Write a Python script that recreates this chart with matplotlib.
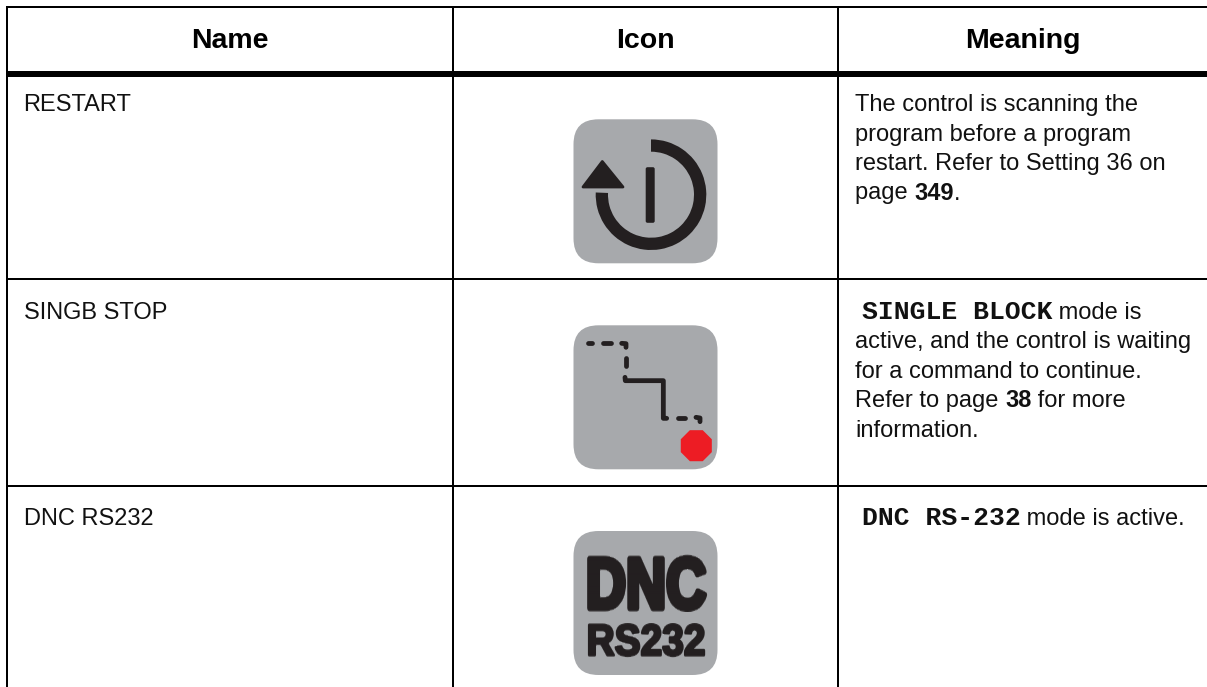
import numpy as np
import matplotlib
matplotlib.use("Agg")
import matplotlib.pyplot as plt
from matplotlib.patches import FancyBboxPatch, Polygon, Wedge, RegularPolygon
import matplotlib.patheffects as pe

headers = ["Name", "Icon", "Meaning"]
names = ["RESTART", "SINGB STOP", "DNC RS232"]

# each line is a list of (text, style) runs, r=regular b=bold m=mono bold
meaning_restart = [
    [("The control is scanning the", "r")],
    [("program before a program", "r")],
    [("restart. Refer to Setting 36 on", "r")],
    [("page ", "r"), ("349", "b"), (".", "r")],
]
meaning_singb = [
    [("SINGLE BLOCK", "m"), (" mode is", "r")],
    [("active, and the control is waiting", "r")],
    [("for a command to continue.", "r")],
    [("Refer to page ", "r"), ("38", "b"), (" for more", "r")],
    [("information.", "r")],
]
meaning_dnc = [
    [("DNC RS-232", "m"), (" mode is active.", "r")],
]

GRAY = "#a7a9ac"
DARK = "#231f20"
RED = "#ed1c24"
W, H = 1207, 687

plt.rcParams['font.family'] = ['Liberation Sans', 'DejaVu Sans']

fig = plt.figure(figsize=(W / 100, H / 100), dpi=100)
ax = fig.add_axes([0, 0, 1, 1])
ax.set_xlim(0, W)
ax.set_ylim(H, 0)
ax.axis('off')

# table rules
for y, lw in [(7, 2), (74, 6), (279, 2), (486, 2)]:
    ax.plot([6, W], [y, y], color='black', lw=lw * 0.72, solid_capstyle='butt')
for x in [7, 453, 838]:
    ax.plot([x, x], [6, H], color='black', lw=2 * 0.72, solid_capstyle='butt')

# header
for x, label in zip([230, 645.5, 1022.5], headers):
    ax.text(x, 48, label, ha='center', va='baseline', fontsize=20.5, fontweight='bold', color='black')

# name column
for y, label in zip([111, 319, 525], names):
    ax.text(23.5, y, label, ha='left', va='baseline', fontsize=17, color='#111111')


def draw_run_line(x, y, runs):
    renderer = fig.canvas.get_renderer()
    for txt, style in runs:
        kw = {'fontsize': 17, 'color': '#111111'}
        if style == 'b':
            kw['fontweight'] = 'bold'
        elif style == 'm':
            kw.update(family=['Liberation Mono', 'DejaVu Sans Mono'], fontweight='bold', fontsize=19)
        t = ax.text(x, y, txt, ha='left', va='baseline', **kw)
        x += t.get_window_extent(renderer).width


for i, runs in enumerate(meaning_restart):
    draw_run_line(855, 111 + i * 29.5, runs)
for i, runs in enumerate(meaning_singb):
    x0 = 861.5 if i == 0 else 855
    draw_run_line(x0, 319 + i * 29.4, runs)
for runs in meaning_dnc:
    draw_run_line(861.5, 525, runs)


def icon_base(top):
    ax.add_patch(FancyBboxPatch((573.5 + 25, top + 25), 144 - 50, 144 - 50,
                                boxstyle="round,pad=25,rounding_size=25",
                                fc=GRAY, ec='none'))


def stretch_y(factor):
    # the icon lettering is a condensed face, none installed, so pull the text taller
    def apply(img, dpi):
        h = img.shape[0]
        pos = np.linspace(0, h - 1, int(round(h * factor)))
        lo = pos.astype(int)
        hi = np.minimum(lo + 1, h - 1)
        t = (pos - lo)[:, None, None]
        return img[lo] * (1 - t) + img[hi] * t, 0, 0
    return apply


# RESTART icon
icon_base(119.3)
ax.add_patch(Wedge((651, 194.7), 55.3, -90, 182.3, width=12.3, fc=DARK, ec='none'))
ax.add_patch(Polygon([(602.3, 161.5), (583, 187), (623, 187)], closed=True,
                     fc=DARK, ec=DARK, lw=2, joinstyle='round'))
ax.add_patch(FancyBboxPatch((647.5, 169), 5.4, 52, boxstyle="round,pad=1.8,rounding_size=1.8",
                            fc=DARK, ec='none'))

# SINGB STOP icon
icon_base(325.3)
paths = [
    [(145, 100), (155, 100)],
    [(190, 100), (212, 100)],
    [(245, 100), (258, 101), (258, 112)],
    [(257, 145), (257, 168)],
    [(255, 202), (256, 212), (370, 212), (370, 325), (380, 325)],
    [(413, 324), (436, 324)],
    [(468, 322), (480, 324), (480, 335)],
]
for seg in paths:
    seg = np.array(seg) / 3 + [540, 310]
    ax.plot(seg[:, 0], seg[:, 1], color=DARK, lw=4.8 * 0.72,
            solid_capstyle='round', solid_joinstyle='round')
ax.add_patch(RegularPolygon((696.3, 445.7), 8, radius=16.8, orientation=np.pi / 8,
                            fc=RED, ec='none'))

# DNC icon
icon_base(531)
t1 = ax.text(646, 609, "DNC", ha='center', va='baseline', fontsize=40, fontweight='bold', color=DARK,
             path_effects=[pe.withStroke(linewidth=3.5, foreground=DARK)])
t1.set_agg_filter(stretch_y(1.3))
t2 = ax.text(646, 655.5, "RS232", ha='center', va='baseline', fontsize=28, fontweight='bold', color=DARK,
             path_effects=[pe.withStroke(linewidth=1.8, foreground=DARK)])
t2.set_agg_filter(stretch_y(1.12))

fig.savefig("out.png", dpi=100)
